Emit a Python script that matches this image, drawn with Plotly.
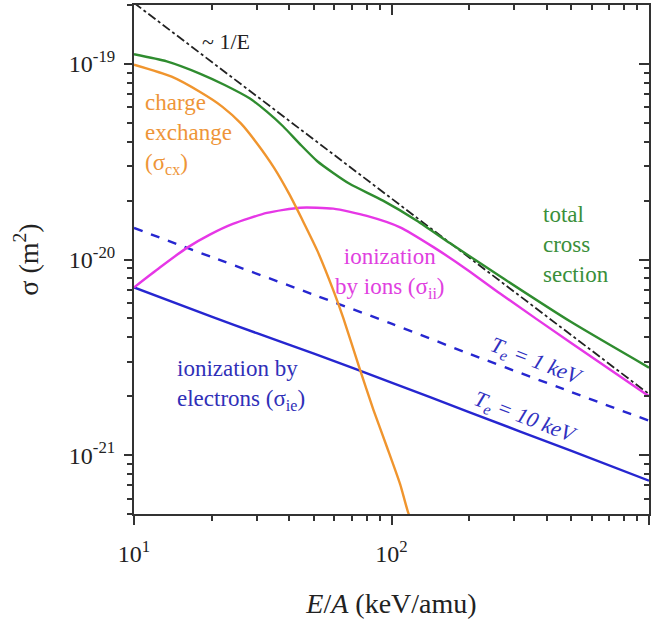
import plotly.graph_objects as go
import math

# ---------------- data ----------------
E_cx = [10, 14, 18, 22, 26, 30, 35, 40, 45, 51.5, 59.4, 65, 75, 85, 96, 108, 116, 125]
sig_cx = [9.9e-20, 8.6e-20, 7.2e-20, 6.05e-20, 4.96e-20, 3.93e-20, 2.94e-20, 2.17e-20, 1.6e-20,
          1.11e-20, 6.97e-21, 5.02e-21, 2.8e-21, 1.71e-21, 1.1e-21, 7.1e-22, 5.1e-22, 4.0e-22]

E_ii = [10, 12.6, 16.1, 19.7, 24.2, 32.8, 44.2, 59.4, 80.2, 108, 145, 196, 264, 497, 1000]
sig_ii = [7.2e-21, 9.1e-21, 1.15e-20, 1.34e-20, 1.52e-20, 1.73e-20, 1.84e-20, 1.82e-20, 1.67e-20,
          1.46e-20, 1.16e-20, 8.9e-21, 6.7e-21, 3.75e-21, 2.0e-21]

E_tot = [10, 13.4, 18.1, 22.5, 28.2, 32.8, 37.9, 44.2, 51.5, 59.4, 69, 92.7, 125.5, 169, 264, 497, 1000]
sig_tot = [1.12e-19, 1.03e-19, 8.9e-20, 7.8e-20, 6.65e-20, 5.7e-20, 4.8e-20, 3.88e-20, 3.18e-20,
           2.77e-20, 2.43e-20, 2.0e-20, 1.58e-20, 1.21e-20, 8.2e-21, 4.8e-21, 2.8e-21]

E_ie10 = [10, 20, 30, 50, 100, 200, 500, 1000]
sig_ie10 = [7.2e-21, 5.1e-21, 4.2e-21, 3.3e-21, 2.35e-21, 1.66e-21, 1.05e-21, 7.4e-22]

E_ie1 = [10, 20, 50, 100, 200, 500, 1000]
sig_ie1 = [1.45e-20, 1.03e-20, 6.6e-21, 4.7e-21, 3.3e-21, 2.1e-21, 1.5e-21]

E_invE = [10, 1000]
sig_invE = [2.05e-19, 2.05e-21]

x_ticks = [10, 100, 1000]
x_ticktext = ["10<sup>1</sup>", "10<sup>2</sup>", "10<sup>3</sup>"]
y_ticks = [1e-21, 1e-20, 1e-19]
y_ticktext = ["10<sup>-21</sup>", "10<sup>-20</sup>", "10<sup>-19</sup>"]

x_range = [10, 1000]
y_range = [5.0e-22, 2.0e-19]

# ---------------- styling ----------------
FONT = "Liberation Serif, Tinos, 'Times New Roman', Times, DejaVu Serif, serif"
C_OR = "#F0952E"
C_GR = "#2F8C2F"
C_MG = "#E637E6"
C_BL = "#2626D0"
AX = "#333333"
TXT = "#222222"

x_minor = [m * 10 ** d for d in (1, 2) for m in range(2, 10)]
y_minor = [m * 10.0 ** d for d in (-22, -21, -20, -19) for m in range(2, 10)
           if y_range[0] <= m * 10.0 ** d <= y_range[1]]

fig = go.Figure()

def add(x, y, color, dash="solid", width=2.4):
    fig.add_trace(go.Scatter(x=x, y=y, mode="lines",
                             line=dict(color=color, width=width, dash=dash, shape="spline", smoothing=0.6),
                             showlegend=False, hoverinfo="skip"))

add(E_invE, sig_invE, "#222222", dash="dashdot", width=1.8)
add(E_ie1, sig_ie1, C_BL, dash="dash")
add(E_ie10, sig_ie10, C_BL)
add(E_ii, sig_ii, C_MG)
add(E_cx, sig_cx, C_OR)
add(E_tot, sig_tot, C_GR)

# invisible trace for the mirrored (inside-tick) axes
fig.add_trace(go.Scatter(x=x_range, y=y_range, xaxis="x2", yaxis="y2", mode="lines",
                         line=dict(width=0), opacity=0, showlegend=False, hoverinfo="skip"))

L, R, T, B = 134, 15, 3, 105
W, H = 664, 619
pw, ph = W - L - R, H - T - B

def px(x):
    return (x - L) / pw

def py(y):
    return (H - B - y) / ph

lx = [math.log10(v) for v in x_range]
ly = [math.log10(v) for v in y_range]

tickfont = dict(family=FONT, size=24, color=TXT)

fig.update_layout(
    width=W, height=H,
    margin=dict(l=L, r=R, t=T, b=B),
    paper_bgcolor="white", plot_bgcolor="white",
    font=dict(family=FONT, color=TXT),
    xaxis=dict(type="log", range=lx, showgrid=False, zeroline=False,
               showline=True, linecolor=AX, linewidth=2, mirror=True,
               tickmode="array", tickvals=x_ticks, ticktext=x_ticktext,
               ticks="outside", ticklen=9, tickwidth=1.5, tickcolor=AX,
               minor=dict(tickmode="array", tickvals=x_minor, ticks="outside", ticklen=5,
                          tickwidth=1.5, tickcolor=AX, showgrid=False),
               tickfont=tickfont, ticklabelstandoff=8,
               title=dict(text="<i>E</i>/<i>A</i> (keV/amu)", font=dict(family=FONT, size=28, color=TXT),
                          standoff=28)),
    yaxis=dict(type="log", range=ly, showgrid=False, zeroline=False,
               showline=True, linecolor=AX, linewidth=2, mirror=True,
               tickmode="array", tickvals=y_ticks, ticktext=y_ticktext,
               ticks="outside", ticklen=8, tickwidth=1.5, tickcolor=AX,
               minor=dict(tickmode="array", tickvals=y_minor, ticks="outside", ticklen=5,
                          tickwidth=1.5, tickcolor=AX, showgrid=False),
               tickfont=tickfont, ticklabelstandoff=4,
               title=dict(text="σ (m<sup>2</sup>)", font=dict(family=FONT, size=28, color=TXT),
                          standoff=22)),
    xaxis2=dict(type="log", range=lx, overlaying="x", side="top", anchor="y", showgrid=False,
                zeroline=False, showline=False, showticklabels=False,
                tickmode="array", tickvals=x_ticks, ticks="inside", ticklen=10, tickwidth=1.5, tickcolor=AX,
                minor=dict(tickmode="array", tickvals=x_minor, ticks="inside", ticklen=5,
                           tickwidth=1.5, tickcolor=AX, showgrid=False)),
    yaxis2=dict(type="log", range=ly, overlaying="y", side="right", anchor="x", showgrid=False,
                zeroline=False, showline=False, showticklabels=False,
                tickmode="array", tickvals=y_ticks, ticks="inside", ticklen=10, tickwidth=1.5, tickcolor=AX,
                minor=dict(tickmode="array", tickvals=y_minor, ticks="inside", ticklen=5,
                           tickwidth=1.5, tickcolor=AX, showgrid=False)),
)

def note(text, x, y, color, xanchor="left", align="left", size=23, angle=0):
    fig.add_annotation(text=text, x=px(x), y=py(y), xref="paper", yref="paper",
                       xanchor=xanchor, yanchor="middle", align=align, showarrow=False,
                       textangle=angle, font=dict(family=FONT, size=size, color=color))

note("~ 1/E", 200, 40, TXT, size=22)
note("charge<br>exchange<br>(σ<sub>cx</sub>)", 143, 133, "#EE9538")
note("total<br>cross<br>section", 541, 243, "#3A8F3A")
note("ionization<br>by ions (σ<sub>ii</sub>)", 390, 272, "#E040E0", xanchor="center", align="center")
note("ionization by<br>electrons (σ<sub>ie</sub>)", 175, 384, "#3030B8")
note("<i>T<sub>e</sub> = 1 keV</i>", 536, 361, "#3030C0", xanchor="center", align="center", size=22, angle=21)
note("<i>T<sub>e</sub> = 10 keV</i>", 525, 418, "#3030C0", xanchor="center", align="center", size=22, angle=21)

fig.write_html("out.html")
